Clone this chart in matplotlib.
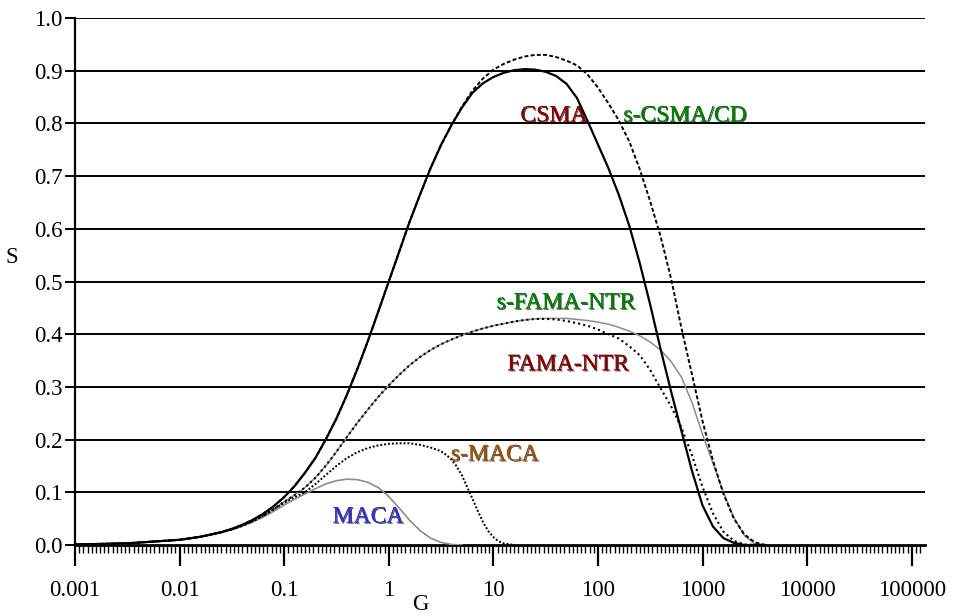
import matplotlib
matplotlib.use('Agg')
import matplotlib.pyplot as plt
import matplotlib.patheffects as pe
from matplotlib.ticker import FixedLocator, NullFormatter

plt.rcParams['font.family'] = ['Liberation Serif', 'DejaVu Serif']

# значения G, в которых снимались кривые (шаг 0.1 декады)
g_grid = [0.001, 0.00316, 0.01, 0.0158, 0.0251,
          0.0316, 0.0398, 0.0501, 0.0631, 0.0794, 0.1, 0.126, 0.158, 0.2, 0.251,
          0.316, 0.398, 0.501, 0.631, 0.794, 1, 1.26, 1.58, 2, 2.51,
          3.16, 3.98, 5.01, 6.31, 7.94, 10, 12.6, 15.8, 20, 25.1,
          31.6, 39.8, 50.1, 63.1, 79.4, 100, 126, 158, 200, 251,
          316, 398, 501, 631, 794, 1000, 1259, 1585, 1995, 2512, 3162, 3981]

csma_s = [0.001, 0.00315, 0.0099, 0.0156, 0.0245,
          0.0306, 0.0383, 0.0477, 0.0593, 0.0736, 0.0909, 0.112, 0.137, 0.166, 0.201,
          0.240, 0.285, 0.334, 0.387, 0.443, 0.5, 0.557, 0.613, 0.666, 0.715,
          0.759, 0.797, 0.83, 0.858, 0.876, 0.888, 0.896, 0.901, 0.903, 0.902,
          0.898, 0.89, 0.875, 0.848, 0.805, 0.76, 0.715, 0.665, 0.605, 0.535,
          0.456, 0.371, 0.291, 0.215, 0.14, 0.075, 0.035, 0.013, 0.004, 0.0, 0.0, 0.0]

scsma_s = [0.001, 0.00315, 0.0099, 0.0156, 0.0245,
           0.0306, 0.0383, 0.0477, 0.0593, 0.0736, 0.0909, 0.112, 0.137, 0.166, 0.201,
           0.240, 0.285, 0.334, 0.387, 0.443, 0.5, 0.557, 0.613, 0.666, 0.715,
           0.759, 0.797, 0.832, 0.862, 0.885, 0.902, 0.913, 0.921, 0.927, 0.93,
           0.93, 0.926, 0.919, 0.91, 0.893, 0.868, 0.838, 0.806, 0.765, 0.713,
           0.652, 0.585, 0.505, 0.41, 0.323, 0.235, 0.16, 0.097, 0.05, 0.02, 0.005, 0.0]

fama_s = [0.001, 0.00314, 0.0098, 0.0154, 0.024,
          0.0295, 0.0365, 0.045, 0.0555, 0.068, 0.082, 0.095, 0.109, 0.128, 0.151,
          0.177, 0.205, 0.232, 0.257, 0.281, 0.303, 0.323, 0.341, 0.357, 0.37,
          0.381, 0.39, 0.398, 0.405, 0.411, 0.416, 0.42, 0.424, 0.427, 0.429,
          0.429, 0.428, 0.425, 0.421, 0.416, 0.409, 0.4, 0.392, 0.377, 0.36,
          0.332, 0.297, 0.263, 0.222, 0.17, 0.11, 0.06, 0.025, 0.008, 0.001, 0.0, 0.0]

sfama_s = [0.001, 0.00314, 0.0098, 0.0154, 0.024,
           0.0295, 0.0365, 0.045, 0.0555, 0.068, 0.082, 0.095, 0.109, 0.128, 0.151,
           0.177, 0.205, 0.232, 0.257, 0.281, 0.303, 0.323, 0.341, 0.357, 0.37,
           0.381, 0.39, 0.398, 0.405, 0.411, 0.416, 0.42, 0.424, 0.427, 0.429,
           0.43, 0.43, 0.43, 0.428, 0.426, 0.423, 0.419, 0.413, 0.406, 0.397,
           0.385, 0.37, 0.348, 0.318, 0.27, 0.21, 0.155, 0.1, 0.052, 0.018, 0.002, 0.0]

smaca_g = [0.001, 0.00316, 0.01, 0.0158, 0.0251, 0.0316, 0.0398, 0.0501, 0.0631,
           0.0794, 0.1, 0.126, 0.158, 0.2, 0.251, 0.316, 0.398, 0.501, 0.631, 0.794,
           1, 1.26, 1.58, 2, 2.51, 3.16, 3.55, 3.98, 4.47, 5.01, 5.62, 6.31, 7.08,
           7.94, 8.91, 10, 11.2, 12.6, 15.8]
smaca_s = [0.001, 0.00314, 0.0098, 0.0154, 0.024, 0.0295, 0.0365, 0.045, 0.0555,
           0.068, 0.08, 0.091, 0.1, 0.116, 0.133, 0.15, 0.165, 0.176, 0.184, 0.189,
           0.192, 0.193, 0.193, 0.19, 0.185, 0.178, 0.171, 0.162, 0.149, 0.132, 0.11,
           0.088, 0.065, 0.044, 0.027, 0.015, 0.007, 0.003, 0.0]

maca_g = [0.001, 0.00316, 0.01, 0.0158, 0.0251, 0.0316, 0.0398, 0.0501, 0.0631,
          0.0794, 0.1, 0.126, 0.158, 0.2, 0.251, 0.316, 0.398, 0.501, 0.631, 0.794,
          1, 1.26, 1.58, 2, 2.51, 3.16, 3.98, 5.01]
maca_s = [0.001, 0.00314, 0.0098, 0.0154, 0.024, 0.029, 0.036, 0.044, 0.053,
          0.064, 0.076, 0.087, 0.097, 0.107, 0.116, 0.122, 0.125, 0.124, 0.119, 0.109,
          0.092, 0.07, 0.047, 0.027, 0.013, 0.005, 0.001, 0.0]

x_ticks = [0.001, 0.01, 0.1, 1, 10, 100, 1000, 10000, 100000]
x_labels = ['0.001', '0.01', '0.1', '1', '10', '100', '1000', '10000', '100000']
y_ticks = [0.0, 0.1, 0.2, 0.3, 0.4, 0.5, 0.6, 0.7, 0.8, 0.9, 1.0]

fig = plt.figure(figsize=(9.6, 6.16), dpi=100)
ax = fig.add_axes([75/960, 1-545/616, 850/960, 527/616])

ax.plot(g_grid, csma_s, color='black', lw=1.6, zorder=5)
ax.plot(g_grid, scsma_s, color='black', lw=1.4, ls=(0, (2, 1.2)), zorder=5)
ax.plot(g_grid, fama_s, color='black', lw=1.5, ls=(0, (1, 1.5)), zorder=5)
ax.plot(g_grid, sfama_s, color='#8c8c8c', lw=1.1, zorder=4)
ax.plot(smaca_g, smaca_s, color='black', lw=1.4, ls=(0, (1, 1)), zorder=5)
ax.plot(maca_g, maca_s, color='#8c8c8c', lw=1.2, zorder=4)

ax.set_xscale('log')
ax.set_xlim(0.001, 1.34e5)
ax.set_ylim(0, 1.0)

ax.set_xticks(x_ticks)
ax.set_xticklabels(x_labels)
minor = [10 ** (k + i / 25) for k in range(-3, 6) for i in range(1, 25)]
ax.xaxis.set_minor_locator(FixedLocator([m for m in minor if m < 1.3e5]))
ax.xaxis.set_minor_formatter(NullFormatter())
ax.set_yticks(y_ticks)
ax.set_yticklabels(['%.1f' % v for v in y_ticks])

for v in y_ticks[1:]:
    ax.axhline(v, color='black', lw=1.4, zorder=1)

ax.spines['top'].set_visible(False)
ax.spines['right'].set_visible(False)
ax.spines['left'].set_linewidth(1.6)
ax.spines['bottom'].set_linewidth(2.0)
ax.tick_params(axis='x', which='major', direction='out', length=15, width=1.6,
               labelsize=16.5, pad=10)
ax.tick_params(axis='x', which='minor', direction='out', length=6, width=1.0)
ax.tick_params(axis='y', which='major', direction='out', length=7, width=1.4,
               labelsize=16.5, pad=2)

fig.text(12/960, 1-258/616, 'S', fontsize=16.5, ha='center', va='center')
fig.text(420/960, 1-604/616, 'G', fontsize=16.5, ha='center', va='center')

shadow = [pe.withSimplePatchShadow(offset=(0.8, -0.8), shadow_rgbFace='black', alpha=0.7),
          pe.Normal()]
labels = [('CSMA', 37.9, 0.814, '#8b0000'),
          ('s-CSMA/CD', 680, 0.814, '#008000'),
          ('s-FAMA-NTR', 49.4, 0.459, '#008000'),
          ('FAMA-NTR', 51.7, 0.342, '#8b0000'),
          ('s-MACA', 10.3, 0.171, '#a0520a'),
          ('MACA', 0.632, 0.053, '#3030d0')]
for txt, gx, sy, col in labels:
    ax.text(gx, sy, txt, color=col, fontsize=17, ha='center', va='center',
            path_effects=shadow, zorder=6)

fig.savefig('out.png', dpi=100)
